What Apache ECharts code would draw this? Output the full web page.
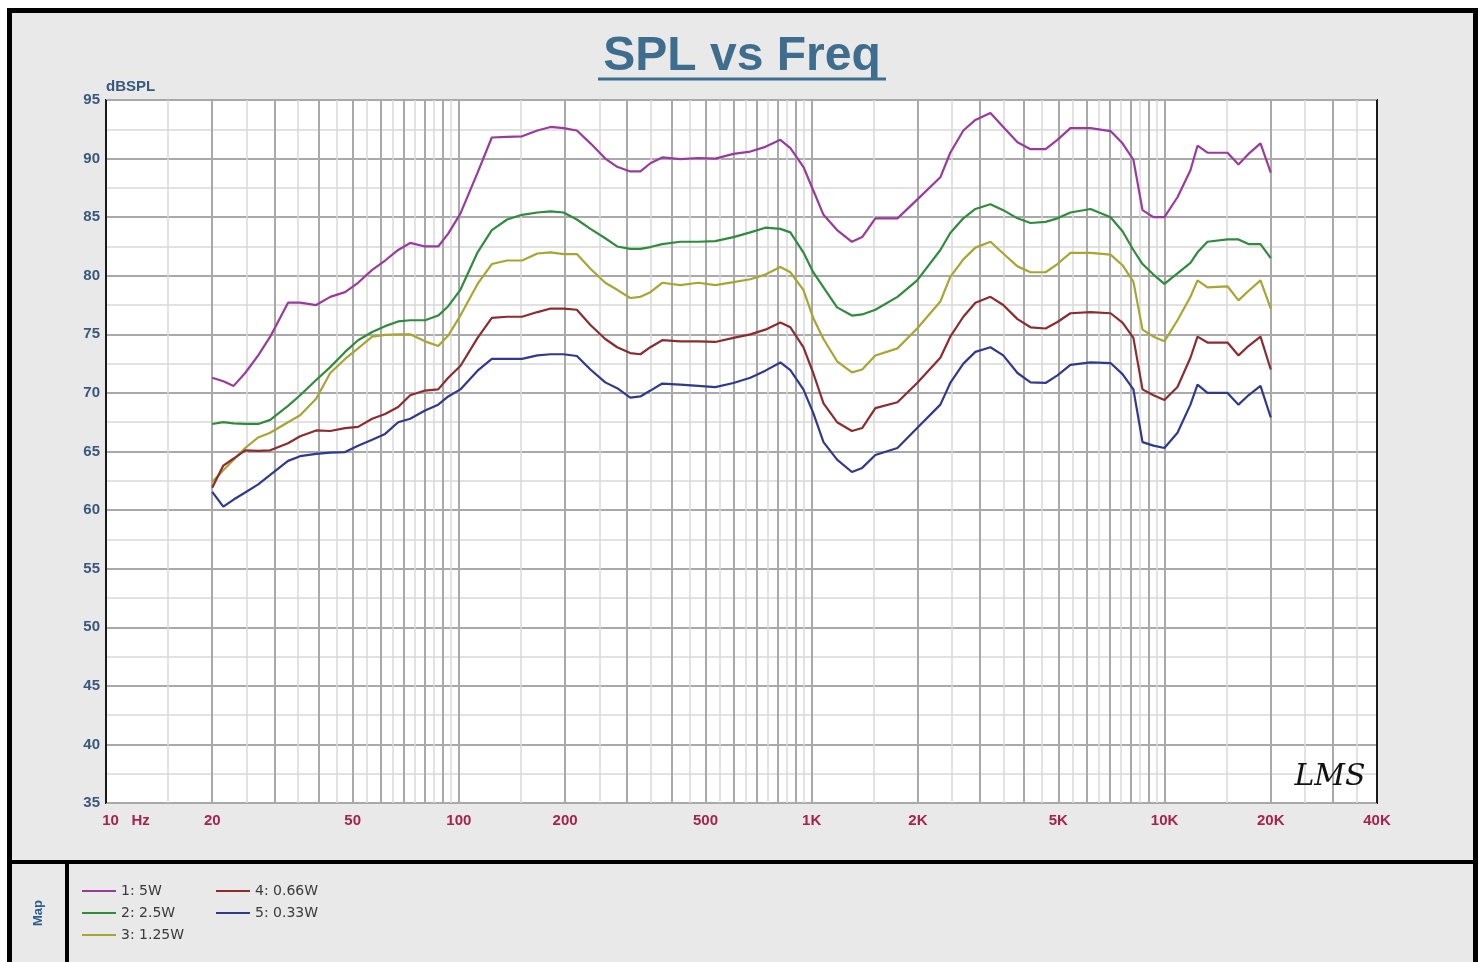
<!DOCTYPE html>
<html><head><meta charset="utf-8">
<script src="https://cdn.jsdelivr.net/npm/echarts@6/dist/echarts.min.js"></script>
<style>html,body{margin:0;padding:0;background:#fff}#c{width:1484px;height:962px}</style>
</head><body><div id="c"></div>
<script>
// ---- data ----
const freqs = [20,21.5,23,24.8,27,29.2,32.8,35.5,39.4,43.2,47.6,51.8,56.8,61.8,67.3,72.8,80.2,87.4,93.3,101,
  113,124,137,151,167,182,198,216,236,260,281,306,327,349,377,424,477,533,600,670,
  739,815,870,947,1010,1080,1180,1300,1390,1515,1750,1990,2315,2470,2690,2910,3210,3490,3830,4170,
  4600,4970,5410,6170,7030,7600,8160,8660,9300,9990,10880,11840,12400,13230,15080,16200,17290,18700,20000];
const spl5W = [71.3,71.0,70.6,71.7,73.2,74.8,77.7,77.7,77.5,78.2,
  78.6,79.4,80.5,81.3,82.2,82.8,82.5,82.5,83.6,85.3,
  88.8,91.8,91.85,91.9,92.4,92.7,92.6,92.4,91.3,90.0,
  89.3,88.9,88.9,89.6,90.1,89.95,90.05,90.0,90.4,90.6,
  91.0,91.6,90.9,89.3,87.3,85.2,83.9,82.9,83.3,84.9,
  84.9,86.5,88.4,90.5,92.4,93.3,93.9,92.7,91.4,90.8,
  90.8,91.6,92.6,92.6,92.35,91.3,89.9,85.6,85.0,85.0,
  86.7,89.0,91.1,90.5,90.5,89.5,90.4,91.3,88.8];
const spl2W5 = [67.35,67.5,67.4,67.35,67.35,67.7,68.9,69.8,71.1,72.2,
  73.5,74.5,75.2,75.7,76.1,76.2,76.2,76.6,77.4,78.8,
  82.0,83.9,84.8,85.2,85.4,85.5,85.4,84.8,84.0,83.2,
  82.5,82.3,82.3,82.45,82.7,82.9,82.9,82.95,83.3,83.7,
  84.1,84.0,83.7,82.0,80.3,79.0,77.3,76.6,76.7,77.1,
  78.2,79.6,82.2,83.65,84.9,85.7,86.1,85.6,84.9,84.5,
  84.6,84.9,85.4,85.7,85.0,83.8,82.2,81.0,80.1,79.3,
  80.2,81.1,82.0,82.9,83.1,83.1,82.7,82.7,81.5];
const spl1W25 = [62.4,63.4,64.3,65.3,66.2,66.6,67.5,68.1,69.5,71.7,
  72.9,73.8,74.8,74.95,75.0,75.0,74.4,74.0,74.9,76.6,
  79.3,81.0,81.3,81.3,81.9,82.0,81.85,81.85,80.6,79.4,
  78.8,78.1,78.2,78.6,79.4,79.2,79.4,79.2,79.45,79.7,
  80.1,80.75,80.3,78.8,76.4,74.6,72.7,71.75,72.0,73.2,
  73.8,75.5,77.8,79.9,81.4,82.4,82.9,81.9,80.8,80.3,
  80.3,81.0,81.95,81.95,81.8,80.9,79.5,75.4,74.8,74.4,
  76.2,78.2,79.6,79.0,79.1,77.9,78.7,79.6,77.2];
const spl0W66 = [61.9,63.8,64.4,65.1,65.05,65.1,65.7,66.3,66.8,66.75,
  67.0,67.1,67.8,68.2,68.8,69.8,70.2,70.3,71.3,72.3,
  74.7,76.4,76.5,76.5,76.9,77.2,77.2,77.1,75.8,74.6,
  73.9,73.4,73.3,73.9,74.5,74.4,74.4,74.35,74.7,75.0,
  75.4,76.0,75.6,73.9,71.7,69.1,67.5,66.75,67.0,68.7,
  69.2,70.85,73.0,74.8,76.5,77.7,78.2,77.5,76.3,75.6,
  75.5,76.05,76.8,76.9,76.8,76.0,74.7,70.3,69.8,69.4,
  70.5,73.0,74.8,74.3,74.3,73.2,74.0,74.8,72.0];
const spl0W33 = [61.55,60.3,60.9,61.5,62.2,63.0,64.2,64.6,64.8,64.9,
  64.95,65.5,66.0,66.5,67.5,67.8,68.5,69.0,69.7,70.3,
  71.9,72.9,72.9,72.9,73.2,73.3,73.3,73.15,72.0,70.9,
  70.4,69.6,69.7,70.2,70.8,70.7,70.6,70.5,70.85,71.3,
  71.9,72.6,71.95,70.3,68.3,65.8,64.3,63.25,63.6,64.7,
  65.3,67.0,69.0,70.85,72.5,73.5,73.9,73.2,71.7,70.9,
  70.85,71.5,72.4,72.6,72.55,71.6,70.3,65.8,65.5,65.3,
  66.6,69.0,70.7,70.0,70.0,69.0,69.8,70.6,67.9];
const seriesNames = ['1: 5W','2: 2.5W','3: 1.25W','4: 0.66W','5: 0.33W'];
const xTickValues = [10,20,50,100,200,500,1000,2000,5000,10000,20000,40000];
const xTickLabels = ['10   Hz','20','50','100','200','500','1K','2K','5K','10K','20K','40K'];

// ---- styling ----
const colors = ['#9b3a9e','#2f8c3c','#a8a630','#8e2b2e','#2f3a8f'];
const labelColor = '#a3244f';
const yLabelColor = '#38587c';

// vertical grid lines every half-step of each decade
const gridLines = [];
[10,100,1000,10000].forEach(d => {
  for (let k = 2; k <= 19; k++) {
    const f = d * k / 2;
    if (f > 10 && f < 40000) gridLines.push({f, major: k % 2 === 0});
  }
});
const labelOf = f => { const i = xTickValues.indexOf(f); return i >= 0 ? xTickLabels[i] : null; };
const mlData = gridLines.map(g => {
  const t = labelOf(g.f);
  return {
    xAxis: g.f,
    lineStyle: {color: g.major ? '#a9a9a9' : '#d9d9d9', width: g.major ? 2 : 1.5, type: 'solid'},
    label: t ? {show: true, formatter: t} : {show: false}
  };
});
mlData.push({xAxis: 10, lineStyle: {color: '#1a1a1a', width: 2, type: 'solid'},
  label: {show: true, formatter: '{h|' + labelOf(10) + '}',
    rich: {h: {padding: [0,0,0,40], color: labelColor, fontWeight: 'bold', fontSize: 15, fontFamily: 'Liberation Sans, Arial'}}}});
mlData.push({xAxis: 40000, lineStyle: {color: '#1a1a1a', width: 2, type: 'solid'},
  label: {show: true, formatter: labelOf(40000)}});

const allSeries = [spl5W, spl2W5, spl1W25, spl0W66, spl0W33];
const series = [{
  name: 'grid', type: 'line', data: [], z: 1, clip: false, silent: true,
  markLine: {
    z: 1, silent: true, symbol: ['none','none'], animation: false,
    label: {position: 'start', distance: 10, color: labelColor, fontWeight: 'bold', fontSize: 15, fontFamily: 'Liberation Sans, Arial'},
    data: mlData
  }
}];
allSeries.forEach((vals, i) => {
  series.push({
    name: seriesNames[i], type: 'line', z: 3, showSymbol: false, symbol: 'none',
    lineStyle: {color: colors[i], width: 2.2}, itemStyle: {color: colors[i]},
    data: freqs.map((f, j) => [f, vals[j]])
  });
});

const chart = echarts.init(document.getElementById('c'), null, {renderer: 'canvas'});
chart.setOption({
  animation: false,
  backgroundColor: '#ffffff',
  title: {
    text: 'SPL vs Freq', left: 'center', top: 28,
    textStyle: {color: '#3e6d8d', fontSize: 48, fontWeight: 'bold', fontFamily: 'Liberation Sans, Arial'}
  },
  grid: {left: 106, right: 107, top: 100, bottom: 159, show: true, backgroundColor: '#ffffff',
    borderColor: '#1a1a1a', borderWidth: 2, containLabel: false, outerBoundsMode: 'none'},
  xAxis: {
    type: 'log', logBase: 10, min: 10, max: 40000,
    axisLine: {show: false}, axisTick: {show: false}, axisLabel: {show: false}, splitLine: {show: false}
  },
  yAxis: {
    type: 'value', min: 35, max: 95, interval: 5,
    name: 'dBSPL', nameLocation: 'end', nameGap: 6,
    nameTextStyle: {align: 'left', color: yLabelColor, fontWeight: 'bold', fontSize: 15, fontFamily: 'Liberation Sans, Arial'},
    axisLine: {show: false}, axisTick: {show: false},
    axisLabel: {color: yLabelColor, fontWeight: 'bold', fontSize: 15, margin: 6, fontFamily: 'Liberation Sans, Arial'},
    splitLine: {show: true, lineStyle: {color: '#a9a9a9', width: 2}},
    minorTick: {show: false, splitNumber: 2},
    minorSplitLine: {show: true, lineStyle: {color: '#d9d9d9', width: 1.5}}
  },
  legend: [{
    data: seriesNames.slice(0, 3), orient: 'vertical', left: 82, top: 883, padding: 0,
    itemGap: 6, itemWidth: 34, itemHeight: 2, icon: 'rect', selectedMode: false,
    textStyle: {color: '#3a3a3a', fontSize: 14, fontFamily: 'DejaVu Sans', lineHeight: 16}
  }, {
    data: seriesNames.slice(3), orient: 'vertical', left: 216, top: 883, padding: 0,
    itemGap: 6, itemWidth: 34, itemHeight: 2, icon: 'rect', selectedMode: false,
    textStyle: {color: '#3a3a3a', fontSize: 14, fontFamily: 'DejaVu Sans', lineHeight: 16}
  }],
  graphic: {elements: [
    {type: 'rect', z: -10, shape: {x: 9.5, y: 10.5, width: 1466, height: 975},
      style: {fill: '#e9e9e9', stroke: '#000', lineWidth: 5}},
    {type: 'line', z: -5, shape: {x1: 8, y1: 862, x2: 1478, y2: 862}, style: {stroke: '#000', lineWidth: 4}},
    {type: 'line', z: -5, shape: {x1: 67, y1: 862, x2: 67, y2: 962}, style: {stroke: '#000', lineWidth: 4}},
    {type: 'line', z: 10, shape: {x1: 598, y1: 79, x2: 886, y2: 79}, style: {stroke: '#3e6d8d', lineWidth: 3}},
    {type: 'text', z: 10, x: 38, y: 913, rotation: Math.PI / 2,
      style: {text: 'Map', fill: '#2e5c8c', font: 'bold 13px "Liberation Sans", Arial', align: 'center', verticalAlign: 'middle'}},
    {type: 'text', z: 10, x: 1330, y: 777,
      style: {text: 'LMS', fill: '#111', font: 'italic 30px "DejaVu Serif"', align: 'center', verticalAlign: 'middle'}}
  ]},
  series: series
});
</script>
</body></html>
